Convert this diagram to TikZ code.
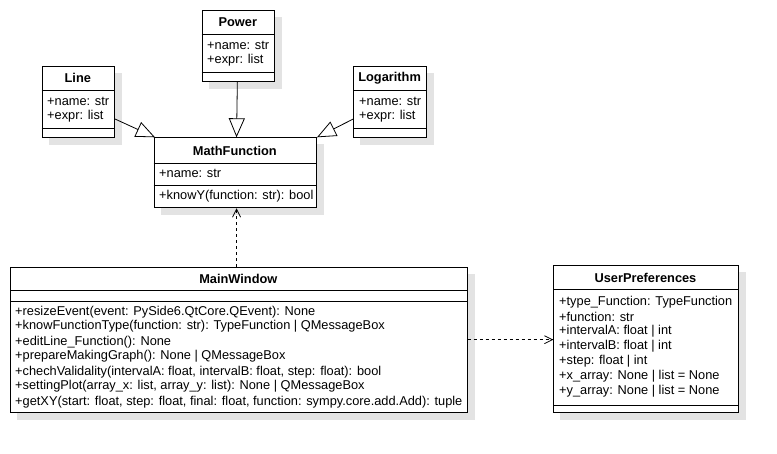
\documentclass[tikz,border=0pt]{standalone}
\usepackage{fontspec}
\setmainfont{Liberation Sans}
\usetikzlibrary{arrows.meta}
\pgfdeclarelayer{background}
\pgfsetlayers{background,main}
\begin{document}
\begin{tikzpicture}[x=1pt,y=-1pt,
  classbox/.style={draw=black, line width=1pt, fill=white, anchor=north west, inner sep=0pt},
  shadowfill/.style={fill=black!11},
  hdr/.style={font=\fontsize{12.8}{15}\selectfont\bfseries, inner sep=0pt},
  attr/.style={font=\fontsize{12.8}{15}\selectfont, inner sep=0pt, anchor=west},
  divider/.style={line width=1pt},
  inherit/.style={line width=0.8pt, -{Triangle[open, length=19pt, width=16pt, line width=0.8pt]}},
  depend/.style={line width=0.8pt, dash pattern=on 3pt off 3pt, -{Straight Barb[length=8pt, width=8pt, line width=0.8pt]}}
]
\useasboundingbox (0,0) rectangle (777,453);

% Power
\node[classbox, minimum width=72.3pt, minimum height=71pt] (power) at (201.7,10) {};
\draw[divider] ([yshift=-24.3pt]power.north west) -- ([yshift=-24.3pt]power.north east);
\draw[divider] ([yshift=9.3pt]power.south west) -- ([yshift=9.3pt]power.south east);
\node[hdr] (powerT) at (237.8,22.5) {Power};
\node[attr] (powerA1) at (207,45.5) {+name: str};
\node[attr] (powerA2) at (207,60.5) {+expr: list};

% Line
\node[classbox, minimum width=72.3pt, minimum height=71.6pt] (line) at (41.7,65.7) {};
\draw[divider] ([yshift=-24.6pt]line.north west) -- ([yshift=-24.6pt]line.north east);
\draw[divider] ([yshift=9.6pt]line.south west) -- ([yshift=9.6pt]line.south east);
\node[hdr] (lineT) at (77.8,78.3) {Line};
\node[attr] (lineA1) at (47,101.5) {+name: str};
\node[attr] (lineA2) at (47,116.5) {+expr: list};

% Logarithm
\node[classbox, minimum width=72.7pt, minimum height=71.6pt] (log) at (353.3,65.7) {};
\draw[divider] ([yshift=-24.6pt]log.north west) -- ([yshift=-24.6pt]log.north east);
\draw[divider] ([yshift=9.6pt]log.south west) -- ([yshift=9.6pt]log.south east);
\node[hdr] (logT) at (389.6,78.3) {Logarithm};
\node[attr] (logA1) at (359,101.5) {+name: str};
\node[attr] (logA2) at (359,116.5) {+expr: list};

% MathFunction
\node[classbox, minimum width=162.3pt, minimum height=70pt] (mf) at (153.7,137.3) {};
\draw[divider] ([yshift=-26pt]mf.north west) -- ([yshift=-26pt]mf.north east);
\draw[divider] ([yshift=-47.7pt]mf.north west) -- ([yshift=-47.7pt]mf.north east);
\node[hdr] (mfT) at (234.8,150.5) {MathFunction};
\node[attr] (mfA1) at (159,173.5) {+name: str};
\node[attr] (mfM1) at (159,196.5) {+knowY(function: str): bool};

% MainWindow
\node[classbox, minimum width=456.7pt, minimum height=145pt] (mw) at (10,266.7) {};
\draw[divider] ([yshift=-23.3pt]mw.north west) -- ([yshift=-23.3pt]mw.north east);
\draw[divider] ([yshift=-34.3pt]mw.north west) -- ([yshift=-34.3pt]mw.north east);
\node[hdr] (mwT) at (238.3,279) {MainWindow};
\node[attr] (mwM1) at (15,311.7) {+resizeEvent(event: PySide6.QtCore.QEvent): None};
\node[attr] (mwM2) at (15,326.7) {+knowFunctionType(function: str): TypeFunction | QMessageBox};
\node[attr] (mwM3) at (15,341.7) {+editLine\_Function(): None};
\node[attr] (mwM4) at (15,356.7) {+prepareMakingGraph(): None | QMessageBox};
\node[attr] (mwM5) at (15,371.7) {+chechValidality(intervalA: float, intervalB: float, step: float): bool};
\node[attr] (mwM6) at (15,386.7) {+settingPlot(array\_x: list, array\_y: list): None | QMessageBox};
\node[attr] (mwM7) at (15,401.7) {+getXY(start: float, step: float, final: float, function: sympy.core.add.Add): tuple};

% UserPreferences
\node[classbox, minimum width=184.4pt, minimum height=147.3pt] (up) at (553.3,265) {};
\draw[divider] ([yshift=-24.3pt]up.north west) -- ([yshift=-24.3pt]up.north east);
\draw[divider] ([yshift=8pt]up.south west) -- ([yshift=8pt]up.south east);
\node[hdr] (upT) at (645.5,278) {UserPreferences};
\node[attr] (upA1) at (559,301.7) {+type\_Function: TypeFunction};
\node[attr] (upA2) at (559,316.7) {+function: str};
\node[attr] (upA3) at (559,331.7) {+intervalA: float | int};
\node[attr] (upA4) at (559,346.7) {+intervalB: float | int};
\node[attr] (upA5) at (559,361.7) {+step: float | int};
\node[attr] (upA6) at (559,376.7) {+x\_array: None | list = None};
\node[attr] (upA7) at (559,391.7) {+y\_array: None | list = None};

% shadows
\begin{pgfonlayer}{background}
\foreach \n in {power,line,log,mf,mw,up}
  \fill[shadowfill] ([shift={(7pt,-7pt)}]\n.north west) rectangle ([shift={(7pt,-7pt)}]\n.south east);
\end{pgfonlayer}

% connectors
\draw[inherit] ([yshift=19.3pt]line.south east) -- ([xshift=1.3pt]mf.north west);
\draw[inherit] ([xshift=-1pt]power.south) -- ([xshift=1.2pt]mf.north);
\draw[inherit] ([yshift=19.3pt]log.south west) -- (mf.north east);
\draw[depend] ([xshift=1.2pt]mf.south |- mw.north) -- ([xshift=1.2pt]mf.south);
\draw[depend] (mw.east) -- (mw.east -| up.west);
\end{tikzpicture}
\end{document}
